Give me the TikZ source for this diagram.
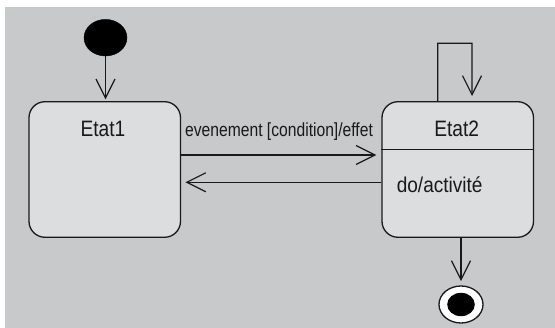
\documentclass[tikz,border=0pt]{standalone}
\usepackage{fontspec}
\setmainfont{Liberation Sans}
\usetikzlibrary{arrows.meta,shapes.geometric}
\definecolor{bggray}{RGB}{200,201,203}
\definecolor{boxgray}{RGB}{220,221,223}
\definecolor{ink}{RGB}{25,25,25}
\tikzset{
  statebox/.style={draw=ink, fill=boxgray, line width=1.3pt, rounded corners=16pt,
    rectangle, minimum width=151.5pt, minimum height=135.6pt, inner sep=0pt},
  arr/.style={draw=ink, line width=1.2pt,
    -{Straight Barb[length=19pt,width=19pt,line width=1.2pt]}},
  lbl/.style={inner sep=0pt, text=ink},
}
\begin{document}
\begin{tikzpicture}[x=1pt,y=-1pt]
\useasboundingbox (0,0) rectangle (555,328);
\fill[white] (0,0) rectangle (555,328);
\fill[bggray] (4.5,6.7) rectangle (555,328);
% states
\node[statebox] (e1) at (104.75,169.5) {};
\node[statebox] (e2) at (457.75,169.5) {};
\draw[ink, line width=1.2pt] (e2.west |- 0,149.5) coordinate (dl) -- (e2.east |- 0,149.5) coordinate (dr);
% texts
\node[lbl, anchor=base] (t1) at (103,136.5) {\fontsize{22.3pt}{24pt}\selectfont\scalebox{0.86}[1]{Etat1}};
\node[lbl, anchor=base] (t2) at (456.7,136.3) {\fontsize{22.3pt}{24pt}\selectfont\scalebox{0.86}[1]{Etat2}};
\node[lbl, anchor=base west] (act) at (396.6,192.5) {\fontsize{21.4pt}{24pt}\selectfont\scalebox{0.89}[1]{do/activité}};
\node[lbl, anchor=base west] (ev) at (185,136.7) {\fontsize{19pt}{22pt}\selectfont\scalebox{0.824}[1]{evenement [condition]/effet}};
% initial state
\node[ellipse, fill=black, draw=black, minimum width=43pt, minimum height=36.6pt, inner sep=0pt] (init) at (105.5,37.7) {};
% final state
\node[ellipse, fill=white, draw=ink, line width=1.3pt, minimum width=44pt, minimum height=37pt, inner sep=0pt] (fin) at (461,304.5) {};
\node[ellipse, fill=black, minimum width=27.6pt, minimum height=23.4pt, inner sep=0pt] (finin) at (fin.center) {};
% transitions
\draw[arr, shorten >=1.7pt] (init.south) -- (init.south |- e1.north);
\draw[arr, shorten >=5pt] ([yshift=14.5pt]e1.east) -- ([yshift=14.5pt]e2.west);
\draw[arr, shorten >=4.3pt] ([yshift=-12.8pt]e2.west) -- ([yshift=-12.8pt]e1.east);
\coordinate (lt) at (472,43.3);
\draw[arr] ([xshift=-20pt]e2.north) |- (lt) -- ([xshift=14.3pt,yshift=5pt]e2.north);
\draw[arr, shorten >=4.3pt] ([xshift=3.25pt]e2.south) -- ([xshift=3.25pt]e2.south |- fin.north);
\end{tikzpicture}
\end{document}
